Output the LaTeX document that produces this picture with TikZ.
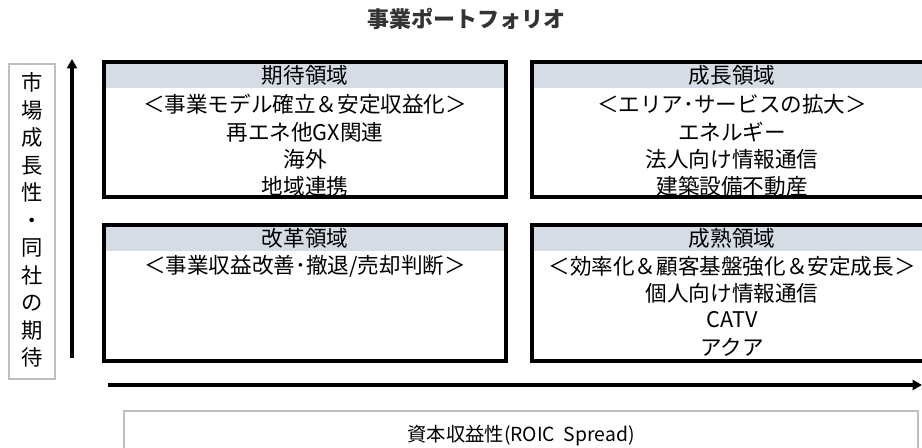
\documentclass[tikz,border=0pt]{standalone}
\usepackage{fontspec}
\setmainfont{Noto Sans CJK JP}
\usetikzlibrary{arrows.meta}
\definecolor{hdr}{HTML}{D6DCE4}
\definecolor{lgray}{HTML}{BFBFBF}
\definecolor{ttl}{HTML}{333333}
\begin{document}
\begin{tikzpicture}[x=0.75pt,y=-0.75pt,
  quad/.style={draw=black,line width=2.6pt},
  band/.style={fill=hdr},
  txt/.style={font=\fontsize{16.2}{18}\selectfont,inner sep=0pt,anchor=center},
  axis/.style={line width=2.5pt,-{Triangle[length=7pt,width=7.5pt]}},
  graybox/.style={draw=lgray,line width=0.9pt}]
\clip (0,0) rectangle (922,448);
\fill[white] (0,0) rectangle (922,448);
% title
\node[font=\fontsize{16.5}{18}\selectfont\bfseries,text=ttl] (title) at (466,19) {事業ポートフォリオ};
% left label
\draw[graybox] (9,64) rectangle (55,379);
\node[font=\fontsize{16}{20.6}\selectfont,align=center,inner sep=0pt] (ylab) at (32,220)
 {市\\場\\成\\長\\性\\・\\同\\社\\の\\期\\待};
% vertical arrow
\coordinate (vs) at (72,358);
\coordinate (ve) at (72,59);
\draw[axis] (vs) -- (ve);
% quadrants: bands
\fill[band] (104,62) rectangle (506,88);
\fill[band] (532,62) rectangle (925,88);
\fill[band] (104,225) rectangle (506,251);
\fill[band] (532,225) rectangle (925,251);
\draw[quad] (104,62) rectangle (506,197);
\draw[quad] (532,62) rectangle (925,197);
\draw[quad] (104,225) rectangle (506,361);
\draw[quad] (532,225) rectangle (925,361);
% top-left
\node[txt] (a0) at (305,75) {期待領域};
\node[txt] (a1) at (305,104) {＜事業モデル確立＆安定収益化＞};
\node[txt] (a2) at (305,132) {再エネ他GX関連};
\node[txt] (a3) at (305,159) {海外};
\node[txt] (a4) at (305,186) {地域連携};
% top-right
\node[txt] (b0) at (732,75) {成長領域};
\node[txt] (b1) at (732,104) {＜エリア･サービスの拡大＞};
\node[txt] (b2) at (732,132) {エネルギー};
\node[txt] (b3) at (732,159) {法人向け情報通信};
\node[txt] (b4) at (732,186) {建築設備不動産};
% bottom-left
\node[txt] (c0) at (305,238) {改革領域};
\node[txt] (c1) at (305,266) {＜事業収益改善･撤退/売却判断＞};
% bottom-right
\node[txt] (d0) at (732,238) {成熟領域};
\node[txt] (d1) at (732,266) {＜効率化＆顧客基盤強化＆安定成長＞};
\node[txt] (d2) at (732,293) {個人向け情報通信};
\node[txt] (d3) at (732,320) {CATV};
\node[txt] (d4) at (732,347) {アクア};
% horizontal arrow
\coordinate (hs) at (108,385);
\coordinate (he) at (922,385);
\draw[axis] (hs) -- (he);
% bottom label
\draw[graybox] (124,411) rectangle (918,470);
\node[font=\fontsize{14.5}{17}\selectfont,inner sep=0pt] (xlab) at (521,436) {資本収益性(ROIC\ \ Spread)};
\end{tikzpicture}
\end{document}
